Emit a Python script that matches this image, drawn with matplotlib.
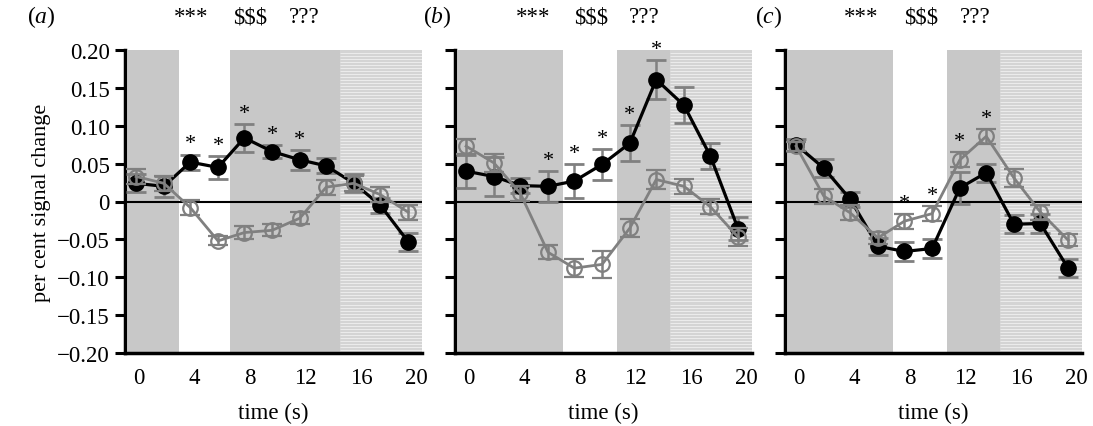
import numpy as np
import matplotlib
matplotlib.use("Agg")
import matplotlib.pyplot as plt

plt.rcParams["font.family"] = ["Liberation Serif", "DejaVu Serif"]
plt.rcParams["mathtext.fontset"] = "custom"
plt.rcParams["mathtext.rm"] = "Liberation Serif"
plt.rcParams["mathtext.it"] = "Liberation Serif:italic"

# time of each sample (s)
time_s = [-0.2, 1.8, 3.7, 5.7, 7.6, 9.6, 11.6, 13.5, 15.5, 17.4, 19.4]

# panel (a)
a_black = [0.024, 0.020, 0.052, 0.045, 0.084, 0.066, 0.055, 0.047, 0.024, -0.005, -0.053]
a_black_err = [0.012, 0.014, 0.010, 0.015, 0.018, 0.009, 0.013, 0.010, 0.012, 0.010, 0.012]
a_grey = [0.033, 0.024, -0.008, -0.052, -0.041, -0.038, -0.022, 0.019, 0.024, 0.009, -0.014]
a_grey_err = [0.010, 0.010, 0.010, 0.006, 0.008, 0.008, 0.008, 0.010, 0.010, 0.010, 0.010]
a_sig = [2, 3, 4, 5, 6]

# panel (b)
b_black = [0.040, 0.033, 0.021, 0.020, 0.027, 0.049, 0.077, 0.161, 0.127, 0.060, -0.036]
b_black_err = [0.022, 0.026, 0.010, 0.020, 0.022, 0.020, 0.024, 0.026, 0.024, 0.017, 0.015]
b_grey = [0.073, 0.051, 0.011, -0.067, -0.088, -0.083, -0.035, 0.029, 0.020, -0.007, -0.047]
b_grey_err = [0.010, 0.012, 0.010, 0.009, 0.012, 0.018, 0.012, 0.013, 0.010, 0.010, 0.012]
b_sig = [3, 4, 5, 6, 7]

# panel (c)
c_black = [0.075, 0.044, 0.003, -0.059, -0.066, -0.062, 0.018, 0.038, -0.030, -0.029, -0.088]
c_black_err = [0.008, 0.012, 0.010, 0.011, 0.012, 0.013, 0.021, 0.012, 0.012, 0.012, 0.012]
c_grey = [0.073, 0.007, -0.015, -0.048, -0.026, -0.016, 0.055, 0.086, 0.031, -0.014, -0.051]
c_grey_err = [0.006, 0.010, 0.010, 0.008, 0.010, 0.010, 0.010, 0.010, 0.012, 0.010, 0.008]
c_sig = [4, 5, 6, 7]

# background blocks: (start, end) of grey, white, grey, striped
a_blocks = [-0.8, 2.9, 6.6, 14.5, 20.4]
bc_blocks = [-0.8, 6.8, 10.7, 14.5, 20.4]

# contrast labels above each panel and their x positions
top_labels = ["***", "$$$", "???"]
a_label_x = [3.8, 8.0, 11.9]
b_label_x = [4.6, 8.8, 12.6]
c_label_x = [4.5, 8.8, 12.7]

panels = [
    ("a", a_black, a_black_err, a_grey, a_grey_err, a_sig, a_blocks, a_label_x),
    ("b", b_black, b_black_err, b_grey, b_grey_err, b_sig, bc_blocks, b_label_x),
    ("c", c_black, c_black_err, c_grey, c_grey_err, c_sig, bc_blocks, c_label_x),
]

yticks = [-0.20, -0.15, -0.10, -0.05, 0, 0.05, 0.10, 0.15, 0.20]
ytick_labels = ["\u22120.20", "\u22120.15", "\u22120.10", "\u22120.05", "0",
                "0.05", "0.10", "0.15", "0.20"]

fig = plt.figure(figsize=(10.93, 4.27), dpi=100)
lefts = [125, 455, 785]
width_px = 297
panel_label_x = [0.038, 0.400, 0.703]

GREY = "#808080"
SHADE = "#c8c8c8"

for i, (name, blk, blk_err, gry, gry_err, sig, blocks, label_x) in enumerate(panels):
    ax = fig.add_axes([lefts[i] / 1093, 73 / 427, width_px / 1093, 303 / 427])
    ax.set_xlim(-1.0, 20.4)
    ax.set_ylim(-0.2, 0.2)

    # shaded background
    ax.axvspan(blocks[0], blocks[1], color=SHADE, lw=0, zorder=0)
    ax.axvspan(blocks[2], blocks[3], color=SHADE, lw=0, zorder=0)
    ax.axvspan(blocks[3], blocks[4], color="#d4d4d4", lw=0, zorder=0)
    ax.hlines(np.arange(-0.2, 0.2, 0.004), blocks[3], blocks[4],
              color="#f0f0f0", lw=0.6, zorder=0.5)

    ax.axhline(0, color="black", lw=1.5, zorder=1)

    ax.errorbar(time_s, blk, yerr=blk_err, fmt="-o", color="black", lw=2.3,
                ms=11, ecolor=GREY, elinewidth=1.8, capsize=7.5, capthick=2,
                zorder=3)
    ax.errorbar(time_s, gry, yerr=gry_err, fmt="-o", color=GREY, lw=2.0,
                ms=10.5, mfc="none", mec=GREY, mew=1.6, ecolor=GREY,
                elinewidth=1.8, capsize=7.5, capthick=2, zorder=4)

    # asterisks over significant time points
    for k in sig:
        top = max(blk[k] + blk_err[k], gry[k] + gry_err[k])
        ax.text(time_s[k], top + 0.008, "*", ha="center", va="baseline",
                fontsize=16, clip_on=False, zorder=5)

    for lab, lx in zip(top_labels, label_x):
        ax.text(lx, 1.11, lab, transform=ax.get_xaxis_transform(),
                ha="center", va="center", fontsize=16.5)
    fig.text(panel_label_x[i], 0.96, "$(" + name + ")$", ha="center",
             va="center", fontsize=17)

    for side in ["top", "right"]:
        ax.spines[side].set_visible(False)
    ax.spines["left"].set_linewidth(2.5)
    ax.spines["bottom"].set_linewidth(2.5)

    ax.set_yticks(yticks)
    ax.tick_params(axis="y", length=7, width=2.2, labelsize=16.5, pad=4)
    if i == 0:
        ax.set_yticklabels(ytick_labels)
        ax.set_ylabel("per cent signal change", fontsize=16, labelpad=4)
    else:
        ax.set_yticklabels([])

    ax.set_xticks([0, 4, 8, 12, 16, 20])
    ax.tick_params(axis="x", length=0, labelsize=16.5, pad=10)
    ax.set_xlabel("time (s)", fontsize=16.5, labelpad=10)

fig.savefig("out.png", dpi=100)
